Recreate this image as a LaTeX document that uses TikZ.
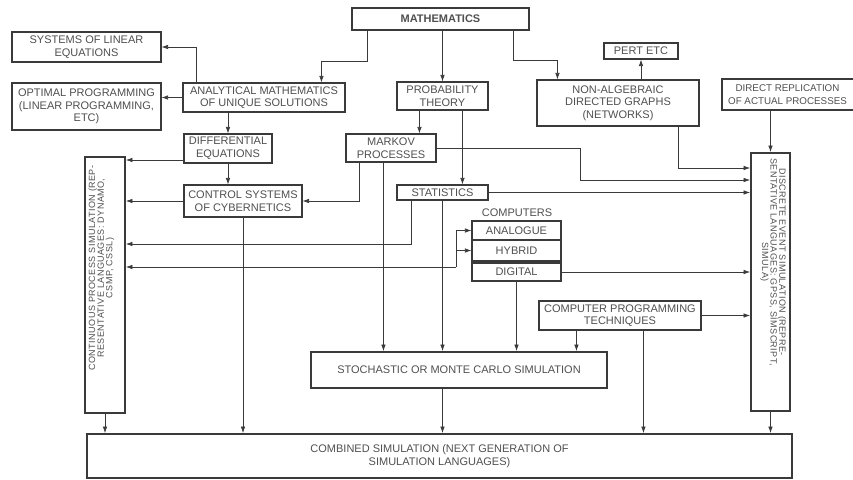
\documentclass[tikz,border=0pt]{standalone}
\usepackage{fontspec}
\setmainfont{Liberation Sans}
\newfontfamily\vfont{Liberation Sans}[LetterSpace=5]
\usetikzlibrary{arrows.meta}
\definecolor{ink}{HTML}{3A3A3A}
\definecolor{txt}{HTML}{505050}
\tikzset{
 box/.style={draw=ink, line width=1.1pt, rectangle, inner sep=0pt, align=center, text=txt, font=\fontsize{11}{12.5}\selectfont},
 thickbox/.style={box, line width=1.8pt},
 lbl/.style={inner sep=0pt, text=txt, font=\fontsize{11}{12.5}\selectfont},
 vtext/.style={inner sep=0pt, align=center, text=txt, font=\vfont\fontsize{9}{8.6}\selectfont},
 arr/.style={draw=ink, line width=0.7pt, -{Latex[length=6.5pt,width=4.5pt]}},
}
\begin{document}
\begin{tikzpicture}[x=1pt,y=-1pt]
\clip (0,0) rectangle (853,479);
\fill[white] (0,0) rectangle (853,479);
% boxes
\node[thickbox, minimum width=177pt, minimum height=22pt] (math) at (440.5,19) {\bfseries MATHEMATICS};
\node[box, minimum width=149pt, minimum height=30pt] (syslin) at (86.5,47) {SYSTEMS OF LINEAR\\EQUATIONS};
\node[box, minimum width=149pt, minimum height=47pt] (optprog) at (86.5,106.5) {OPTIMAL PROGRAMMING\\(LINEAR PROGRAMMING,\\ETC)};
\node[box, minimum width=162pt, minimum height=29pt] (anal) at (264,97.5) {ANALYTICAL MATHEMATICS\\OF UNIQUE SOLUTIONS};
\node[box, minimum width=91pt, minimum height=28pt] (prob) at (442.5,96) {PROBABILITY\\THEORY};
\node[box, minimum width=162pt, minimum height=46pt] (nonalg) at (618,103) {NON-ALGEBRAIC\\DIRECTED GRAPHS\\(NETWORKS)};
\node[box, minimum width=74pt, minimum height=16pt] (pert) at (641,51) {PERT ETC};
\node[box, minimum width=136pt, minimum height=31pt, font=\fontsize{9.8}{12.5}\selectfont] (direct) at (790,94.5) {};
\node[lbl, align=center, font=\fontsize{9.8}{12.5}\selectfont] (directt) at (787.5,94.5) {DIRECT REPLICATION\\OF ACTUAL PROCESSES};
\node[box, minimum width=88pt, minimum height=29pt] (diff) at (228,148.5) {DIFFERENTIAL\\EQUATIONS};
\node[box, minimum width=90pt, minimum height=28pt] (markov) at (391,148) {MARKOV\\PROCESSES};
\node[box, minimum width=118pt, minimum height=32pt] (control) at (243,201) {CONTROL SYSTEMS\\OF CYBERNETICS};
\node[box, minimum width=91pt, minimum height=15pt] (stats) at (442.5,192.5) {STATISTICS};
\node[lbl] (complab) at (517,213) {COMPUTERS};
\node[box, minimum width=89pt, minimum height=19pt] (analogue) at (516.5,230.5) {ANALOGUE};
\node[box, minimum width=89pt, minimum height=21pt] (hybrid) at (516.5,250.5) {HYBRID};
\node[box, minimum width=89pt, minimum height=18pt] (digital) at (516.5,272) {DIGITAL};
\node[box, minimum width=162pt, minimum height=29pt] (progtech) at (620,315.5) {COMPUTER PROGRAMMING\\TECHNIQUES};
\node[thickbox, minimum width=296pt, minimum height=36pt] (stoch) at (459,370) {STOCHASTIC OR MONTE CARLO SIMULATION};
\node[thickbox, minimum width=40pt, minimum height=256pt] (cont) at (105,285) {};
\node[thickbox, minimum width=39pt, minimum height=258pt] (disc) at (770.5,282) {};
\node[thickbox, minimum width=705pt, minimum height=44pt] (comb) at (439.5,456) {COMBINED SIMULATION (NEXT GENERATION OF\\SIMULATION LANGUAGES)};
\node[vtext, rotate=90] (contt) at (101.5,268) {CONTINUOUS PROCESS SIMULATION (REP-\\RESENTATIVE LANGUAGES: DYNAMO,\\CSMP, CSSL)};
\node[vtext, rotate=-90] (disct) at (773,262) {DISCRETE EVENT SIMULATION (REPRE-\\SENTATIVE LANGUAGES: GPSS, SIMSCRIPT,\\SIMULA)};
% connectors
\draw[arr] ([xshift=16pt]math.south west) -- ++(0,30) -| ([xshift=139pt]anal.north west);
\draw[arr] (math.south -| prob.north) -- (prob.north);
\draw[arr] ([xshift=162pt]math.south west) -- ++(0,29) -| ([xshift=21pt]nonalg.north west);
\draw[arr] ([xshift=14pt]anal.north west) |- (syslin.east);
\draw[arr] (anal.west) -- (anal.west -| optprog.east);
\draw[arr] (diff.north |- anal.south) -- (diff.north);
\draw[arr] (diff.south) -- (diff.south |- control.north);
\coordinate (d1) at ([yshift=-11.5pt]diff.west);
\draw[arr] (d1) -- (d1 -| cont.east);
\draw[arr] (control.west) -- (control.west -| cont.east);
\draw[arr] (control.south) -- (control.south |- comb.north);
\coordinate (p1) at ([xshift=23pt]prob.south west);
\draw[arr] (p1) -- (p1 |- markov.north);
\coordinate (p2) at ([xshift=66pt]prob.south west);
\draw[arr] (p2) -- (p2 |- stats.north);
\coordinate (m1) at ([xshift=14pt]markov.south west);
\draw[arr] (m1) |- (control.east);
\coordinate (m2) at ([xshift=38pt]markov.south west);
\draw[arr] (m2) -- (m2 |- stoch.north);
\coordinate (mk) at (580,180);
\draw[arr] (markov.east) -| (mk) -- (mk -| disc.west);
\draw[arr] (stats.east) -- (stats.east -| disc.west);
\coordinate (s1) at ([xshift=15pt]stats.south west);
\coordinate (s2) at ([yshift=41pt]cont.east);
\draw[arr] (s1) |- (s2);
\draw[arr] (stats.south) -- (stats.south |- stoch.north);
\draw[arr] (pert.south |- nonalg.north) -- (pert.south);
\coordinate (n1) at ([xshift=60pt]nonalg.south);
\coordinate (n2) at ([yshift=114pt]disc.west);
\draw[arr] (n1) |- (n2);
\draw[arr] (disc.north |- direct.south) -- (disc.north);
\coordinate (cb) at (456,267);
\draw[arr] (cb) -- (cb -| cont.east);
\draw[arr] (cb) |- (analogue.west);
\draw[arr] (cb |- hybrid.west) -- (hybrid.west);
\draw[arr] (digital.east) -- (digital.east -| disc.west);
\draw[arr] (digital.south) -- (digital.south |- stoch.north);
\draw[arr] (progtech.east) -- (progtech.east -| disc.west);
\coordinate (t1) at ([xshift=38pt]progtech.south west);
\draw[arr] (t1) -- (t1 |- stoch.north);
\coordinate (t2) at ([xshift=105pt]progtech.south west);
\draw[arr] (t2) -- (t2 |- comb.north);
\draw[arr] (stats.south |- stoch.south) -- (stats.south |- comb.north);
\draw[arr] (cont.south) -- (cont.south |- comb.north);
\draw[arr] (disc.south) -- (disc.south |- comb.north);
\end{tikzpicture}
\end{document}
